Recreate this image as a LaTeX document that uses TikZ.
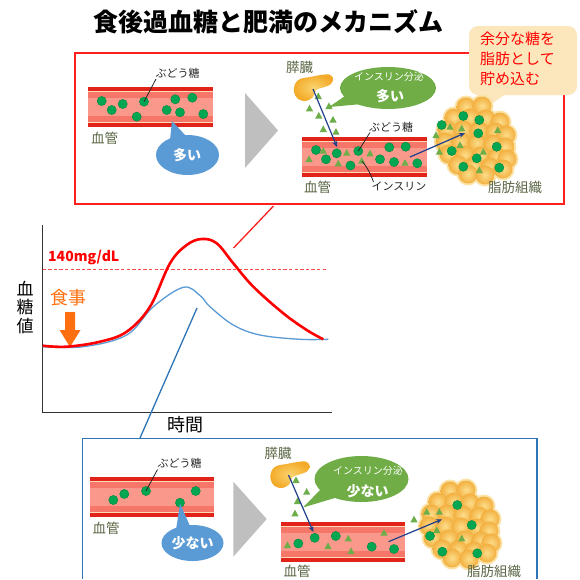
\documentclass[tikz,border=0pt]{standalone}
\usepackage{fontspec}
\setmainfont{Noto Sans CJK JP}
\usetikzlibrary{arrows.meta}

\definecolor{vesdark}{HTML}{E2231A}
\definecolor{vespale}{HTML}{FDD9B5}
\definecolor{vesmid}{HTML}{F7766A}
\definecolor{veslight}{HTML}{F9988B}
\definecolor{glucose}{HTML}{00A651}
\definecolor{glucoseedge}{HTML}{00873F}
\definecolor{insulin}{HTML}{6DAE4A}
\definecolor{bubblegreen}{HTML}{70AD47}
\definecolor{bubbleblue}{HTML}{5B9BD5}
\definecolor{arrowgray}{HTML}{BFBFBF}
\definecolor{labelgray}{HTML}{5A6645}
\definecolor{navy}{HTML}{203F8C}
\definecolor{fatin}{HTML}{FCDD8A}
\definecolor{fatout}{HTML}{F3B040}
\definecolor{fathalo}{HTML}{FBE3A8}
\definecolor{pancin}{HTML}{FBD470}
\definecolor{pancout}{HTML}{F3AA28}
\definecolor{calloutfill}{HTML}{FCE7BC}
\definecolor{boxred}{HTML}{FF1F1F}
\definecolor{boxblue}{HTML}{2E75B6}
\definecolor{curveblue}{HTML}{5B9BD5}
\definecolor{mealorange}{HTML}{FF6F0F}
\definecolor{limitred}{HTML}{FF4A4A}

% blood vessel: x1 y1 x2 y2
\newcommand\vesselbody[4]{%
  \fill[vesdark] (#1,#2) rectangle (#3,#4);
  \fill[vespale] (#1,#2+4) rectangle (#3,#4-4);
  \fill[vesmid] (#1,#2+5) rectangle (#3,#4-5);
  \fill[veslight] (#1,#2+11) rectangle (#3,#4-11);
}
% glucose molecule
\newcommand\gdot[2]{\fill[glucose,draw=glucoseedge,line width=0.4pt] (#1,#2) circle[radius=4.6];}
% insulin particle
\newcommand\insl[2]{\fill[insulin] (#1-3.6,#2+3) -- (#1+3.6,#2+3) -- (#1,#2-3.6) -- cycle;}
% fat tissue cell cluster around a centre
\newcommand\fatcells[2]{%
  \begin{scope}[shift={(#1,#2)}]
    \foreach \dx/\dy in {-8/-31,8/-32,
      -20/-20,-4/-20,12/-19,26/-16,
      -27/-8,-11/-8,5/-7,21/-6,32/-3,
      -29/4,-13/4,3/5,19/6,31/9,
      -25/16,-9/17,7/18,23/19,33/21,
      -16/27,0/28,16/29,29/31,
      -6/36,11/37}
      {\fill[fathalo] (\dx,\dy) circle[radius=11.5];}
    \foreach \dx/\dy in {-8/-31,8/-32,
      -20/-20,-4/-20,12/-19,26/-16,
      -27/-8,-11/-8,5/-7,21/-6,32/-3,
      -29/4,-13/4,3/5,19/6,31/9,
      -25/16,-9/17,7/18,23/19,33/21,
      -16/27,0/28,16/29,29/31,
      -6/36,11/37}
      {\shade[inner color=fatin,outer color=fatout] (\dx,\dy) circle[radius=9.5];}
  \end{scope}}
% pancreas outline: thick head on the left, tail to the upper right
\newcommand\pancreas{%
  \shade[inner color=pancin,outer color=pancout]
    plot[smooth cycle,tension=0.6] coordinates {(295,84) (300,79) (310,77) (321,75) (329,74.5) (333,78) (331,84) (323,87.5) (316,90) (313,97) (306,101) (298,99) (294,92)};}

\tikzset{
  lbl/.style={font=\fontsize{13.5}{15}\selectfont, text=labelgray, inner sep=0},
  glbl/.style={font=\fontsize{11}{12}\selectfont, text=black!85, inner sep=0},
  leader/.style={draw=black!85, line width=0.8pt},
  flow/.style={draw=navy, line width=1.2pt, -{Stealth[length=6pt,width=5pt]}},
  bubbletext/.style={font=\fontsize{14}{15}\selectfont\bfseries, text=white, inner sep=0},
  bubblesmall/.style={font=\fontsize{10}{11}\selectfont, text=white, inner sep=0},
}

\begin{document}
\begin{tikzpicture}[x=1pt,y=-1pt]
\useasboundingbox[fill=white] (0,0) rectangle (580,579);

% ---------- title ----------
\node[font=\fontsize{25}{27}\selectfont\bfseries, inner sep=0] (title) at (268.5,22) {食後過血糖と肥満のメカニズム};

% ---------- upper panel (high insulin) ----------
\draw[boxred, line width=1.6pt] (75,53) rectangle (564,204);

% callout
\fill[calloutfill, rounded corners=9pt] (469,26) rectangle (577,95);
\fill[calloutfill] (487,93) -- (480,112) -- (507,93) -- cycle;
\node[font=\fontsize{15}{20}\selectfont, text=red, anchor=north west, align=left, inner sep=0] (note) at (480,32)
  {余分な糖を\\脂肪として\\貯め込む};

% left vessel
\vesselbody{88}{87}{213}{127}
\foreach \p/\q in {101.7/101,111.7/110,122.7/104,136.7/116.7,144/101.7,166.7/110,175.3/99.3,180/112.3,192.3/97.7,203.3/114}
  {\gdot{\p}{\q}}
\node[glbl] (gluA) at (177.5,73) {ぶどう糖};
\coordinate (gluAend) at (144,101.7);
\draw[leader] (156,79) -- (gluAend);
\node[lbl] (vesA) at (104.5,138.5) {血管};

% blue bubble
\fill[bubbleblue] (187.5,155) ellipse[x radius=31.5, y radius=20];
\fill[bubbleblue] (170,140) -- (172,121) -- (186,136) -- cycle;
\node[bubbletext] (muchA) at (187,155) {多い};

% step arrow
\fill[arrowgray] (245,93) -- (278,130.5) -- (245,168) -- cycle;

% pancreas and insulin
\node[lbl] (pancA) at (299.5,67) {膵臓};
\pancreas
\foreach \p/\q in {318.3/96,309.5/108.3,329/106,318.8/115.5,333/119.5,323.3/129,336/131.7}
  {\insl{\p}{\q}}

% green bubble
\fill[bubblegreen] (388,88) ellipse[x radius=48, y radius=21];
\fill[bubblegreen] (345,96) -- (329,107) -- (362,104) -- cycle;
\node[bubblesmall] (secA) at (389,77) {インスリン分泌};
\node[bubbletext] (secmuchA) at (390,96) {多い};

% right vessel
\vesselbody{302}{137}{427}{177}
\foreach \p/\q in {309/159,323.3/150.7,338.3/163.3,346.7/152.7,361.7/160.7,370/153.3,405/162.7}
  {\insl{\p}{\q}}
\foreach \p/\q in {316/150,326/159.3,336.7/153.3,350.5/165.5,358.3/151,380/159.3,389.3/147.3,394/162,405.7/146.7,417.3/163.3}
  {\gdot{\p}{\q}}

\coordinate (pancAout) at (313,89);
\coordinate (vesAin) at (337,147);
\draw[flow] (pancAout) -- (vesAin);

\node[glbl] (gluB) at (391,127) {ぶどう糖};
\coordinate (gluBend) at (358.3,151);
\draw[leader] (370,132.5) -- (gluBend);
\node[glbl] (insA) at (399,186) {インスリン};
\coordinate (insAend) at (362,161);
\draw[leader] (373.5,182) .. controls (370,172) and (366,166) .. (insAend);
\node[lbl] (vesB) at (317.5,187) {血管};

% fat tissue
\fatcells{474}{138}
\foreach \p/\q in {450/126.7,461.7/128.3,436/135,439.3/151.7,460/145,483.3/151.7,497.7/130,479.3/170}
  {\insl{\p}{\q}}
\foreach \p/\q in {441.7/125,463.3/116,479.3/120,478.3/133.3,451.7/151,496.7/146.7,476.7/158.3,463.3/166.7,499.3/167.7}
  {\gdot{\p}{\q}}
\coordinate (vesAout) at (410,157);
\coordinate (fatAin) at (465,133);
\draw[flow] (vesAout) -- (fatAin);
\node[lbl] (fatA) at (515,187) {脂肪組織};

% ---------- blood glucose graph ----------
\draw[black!80, line width=1pt] (42.5,225) -- (42.5,412) -- (332,412);
% 140 mg/dL threshold, drawn as short red dashes
\foreach \i in {0,...,50}
  {\fill[limitred] (42.5+\i*5.6,268.5) rectangle ++(3.4,1.6);}
\node[font=\fontsize{14}{15}\selectfont\bfseries, text=red, anchor=west, inner sep=0] (limit) at (48,257) {140mg/dL};

\node[font=\fontsize{17}{18.5}\selectfont, align=center, inner sep=0] (yaxis) at (25,307.5) {血\\糖\\値};
\node[font=\fontsize{18}{19}\selectfont, inner sep=0] (xaxis) at (185,425) {時間};
\node[font=\fontsize{18}{19}\selectfont, text=mealorange, inner sep=0] (meal) at (68.5,298) {食事};
\fill[mealorange] (65,312) -- (75,312) -- (75,330) -- (80.5,330) -- (70,347) -- (59.5,330) -- (65,330) -- cycle;

\draw[curveblue, line width=1.3pt] plot[smooth, tension=0.6] coordinates
  {(42.7,346.7) (83.3,346.7) (126.7,335) (153.3,306.7) (183.3,287.3) (200,295.5) (210,306.7) (233.3,325) (260,335) (300,339.3) (328.3,339.3)};
\draw[red, line width=2.6pt] plot[smooth, tension=0.6] coordinates
  {(42.7,345.7) (66.7,346.7) (100,341.7) (126.7,331.7) (150,306.7) (170,263.3) (186.7,245) (201.7,239) (216.7,243.3) (233.3,263.3) (253.3,286.7) (283.3,313.3) (306.7,330) (323.3,339.3)};

% connectors from the curves to the panels
\coordinate (peakHigh) at (233.5,248);
\coordinate (boxHigh) at (273.5,206);
\draw[boxred, line width=1.3pt] (peakHigh) -- (boxHigh);
\coordinate (peakLow) at (197,308);
\coordinate (boxLow) at (140,438);
\draw[boxblue, line width=1.3pt] (peakLow) -- (boxLow);

% ---------- lower panel (low insulin) ----------
\draw[boxblue, line width=1.4pt] (82.5,579) -- (82.5,438.3) -- (537,438.3) -- (537,579);

% left vessel
\vesselbody{90}{477}{214}{517}
\foreach \p/\q in {113.3/500,124.3/494,146/491,180/502.7,195.7/491}
  {\gdot{\p}{\q}}
\node[glbl] (gluC) at (179.5,463.5) {ぶどう糖};
\coordinate (gluCend) at (146,491);
\draw[leader] (157.5,469.5) -- (gluCend);
\node[lbl] (vesC) at (106,528.5) {血管};

% blue bubble
\fill[bubbleblue] (192.5,543) ellipse[x radius=31, y radius=18];
\fill[bubbleblue] (176,530) -- (180,503.5) -- (190,526) -- cycle;
\node[bubbletext] (fewA) at (192.5,543) {少ない};

% step arrow
\fill[arrowgray] (233.3,481.7) -- (266.7,519) -- (233.3,556.7) -- cycle;

% pancreas and insulin
\node[lbl] (pancB) at (278,453) {膵臓};
\begin{scope}[shift={(-23.5,387)}]
  \pancreas
\end{scope}
\foreach \p/\q in {296/480,306.7/491.7,297.5/501,295/513.3}
  {\insl{\p}{\q}}

% green bubble
\fill[bubblegreen] (361.5,479) ellipse[x radius=47, y radius=23];
\fill[bubblegreen] (322,488) -- (303,507.5) -- (338,497) -- cycle;
\node[bubblesmall] (secB) at (368,471) {インスリン分泌};
\node[bubbletext] (secfewB) at (367.5,491.5) {少ない};

% right vessel
\vesselbody{281}{522}{405}{562}
\foreach \p/\q in {287.5/545,328/546,348.3/538.3,351/551,384/532.7}
  {\insl{\p}{\q}}
\foreach \p/\q in {298.3/543.5,314.7/537.8,335.8/536,371.7/546.7,394/549}
  {\gdot{\p}{\q}}
\coordinate (pancBout) at (288.5,475);
\coordinate (vesBin) at (313.3,532);
\draw[flow] (pancBout) -- (vesBin);
\node[lbl] (vesD) at (297,571) {血管};

% fat tissue
\fatcells{458}{522}
\insl{414}{519.3}
\foreach \p/\q in {426.7/511.7,439.3/511.7,436.7/530,461.7/538.3}
  {\insl{\p}{\q}}
\foreach \p/\q in {457.3/505,471.7/525,430/536,442.3/551.7,477.3/553.3}
  {\gdot{\p}{\q}}
\coordinate (vesBout) at (388.5,541.7);
\coordinate (fatBin) at (442,519.3);
\draw[flow] (vesBout) -- (fatBin);
\node[lbl] (fatB) at (494,571) {脂肪組織};

\end{tikzpicture}
\end{document}
